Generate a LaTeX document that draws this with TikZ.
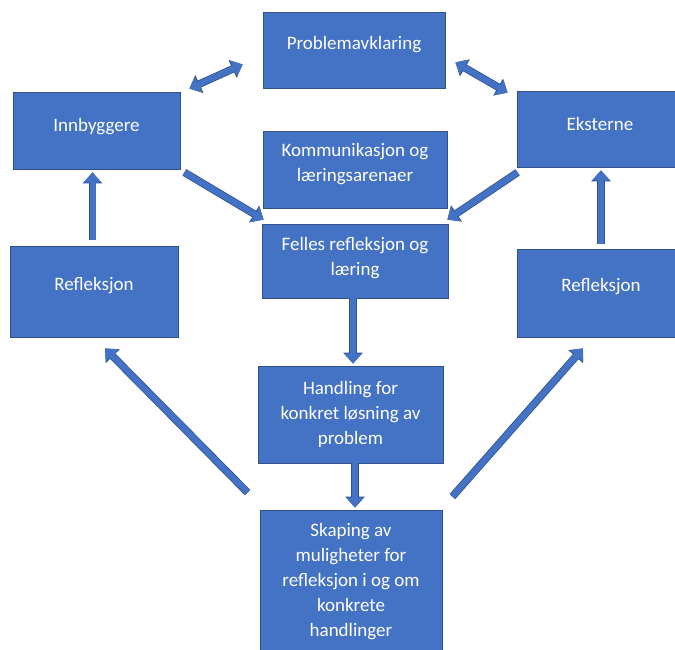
\documentclass[tikz,border=0pt]{standalone}
\usepackage{fontspec}
\setmainfont{Carlito}
\usetikzlibrary{arrows.meta,calc}
\definecolor{boxfill}{RGB}{68,114,196}
\definecolor{boxline}{RGB}{47,82,143}
\tikzset{
  box/.style={draw=boxline, line width=0.8pt, fill=boxfill, text=white, align=center,
    font=\fontsize{19}{25}\selectfont, inner sep=2pt},
  blockarrow/.style={draw=boxfill, line width=6pt, -{Triangle[width=17pt,length=10pt]},
    preaction={draw=boxline, line width=7.6pt, -{Triangle[width=19pt,length=11pt]}}},
  twoway/.style={draw=boxfill, line width=6pt, {Triangle[width=17pt,length=10pt]}-{Triangle[width=17pt,length=10pt]},
    preaction={draw=boxline, line width=7.6pt, {Triangle[width=19pt,length=11pt]}-{Triangle[width=19pt,length=11pt]}}}
}

\begin{document}
\begin{tikzpicture}[x=1pt,y=-1pt]
  \useasboundingbox (0,0) rectangle (675,650);
  \node[box, minimum width=182pt, minimum height=76pt, text depth=14pt] (prob) at (354,50) {Problemavklaring};
  \node[box, minimum width=167pt, minimum height=77pt, text depth=12pt] (innb) at (96.5,130.5) {Innbyggere};
  \node[box, minimum width=166pt, minimum height=76pt, text depth=10pt] (ekst) at (600,129) {Eksterne};
  \node[box, minimum width=184pt, minimum height=77pt, text depth=14pt] (komm) at (355,169.5) {Kommunikasjon og\\læringsarenaer};
  \node[box, minimum width=186pt, minimum height=74pt, text depth=10pt] (felles) at (355,261) {Felles refleksjon og\\læring};
  \node[box, minimum width=168pt, minimum height=91pt, text depth=16pt] (reflv) at (94,291.5) {Refleksjon};
  \node[box, minimum width=168pt, minimum height=88pt, text depth=16pt] (reflh) at (601,293) {Refleksjon};
  \node[box, minimum width=185pt, minimum height=97pt] (hand) at (350.5,414.5) {Handling for\\konkret løsning av\\problem};
  \node[box, minimum width=182pt, minimum height=144pt] (skap) at (351,582) {Skaping av\\muligheter for\\refleksjon i og om\\konkrete\\handlinger};

  \draw[twoway] ($(innb.north east)+(9,-3)$) -- ($(prob.south west)+(-20,-24)$);
  \draw[twoway] ($(prob.south east)+(10,-26)$) -- ($(ekst.north west)+(-9,2)$);
  \draw[blockarrow] ($(innb.south east)+(4,3)$) -- ($(felles.north west)+(2,-4)$);
  \draw[blockarrow] ($(ekst.south west)+(1,5)$) -- ($(felles.north east)+(-1,-4)$);
  \draw[blockarrow] ($(felles.south)+(-2,0)$) -- ($(hand.north)+(2.5,-2)$);
  \draw[blockarrow] ($(hand.south)+(4.5,0)$) -- ($(skap.north)+(4,-2)$);
  \draw[blockarrow] ($(reflv.north)+(-1.5,-6)$) -- ($(innb.south)+(-4,3)$);
  \draw[blockarrow] ($(reflh.north)+(0,-5)$) -- ($(ekst.south)+(1,3)$);
  \draw[blockarrow] ($(skap.north west)+(-12,-17)$) -- ($(reflv.south)+(11,11)$);
  \draw[blockarrow] ($(skap.north east)+(10,-13)$) -- ($(reflh.south)+(-18,11)$);
\end{tikzpicture}
\end{document}
